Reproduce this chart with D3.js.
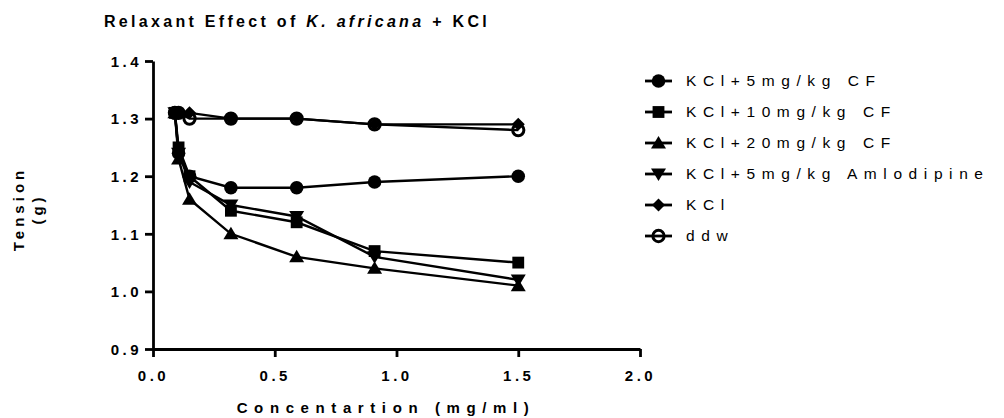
<!DOCTYPE html>
<html>
<head>
<meta charset="utf-8">
<script src="https://cdn.jsdelivr.net/npm/d3@7"></script>
<style>
  body { margin: 0; background: #fff; }
  text { font-family: "Liberation Sans", Arial, sans-serif; }
</style>
</head>
<body>
<div id="chart"></div>
<script>
const concentrations = [0.09, 0.105, 0.15, 0.32, 0.59, 0.91, 1.5];

const seriesNames = ["KCl+5mg/kg CF", "KCl+10mg/kg CF", "KCl+20mg/kg CF",
  "KCl+5mg/kg Amlodipine", "KCl", "ddw"];

const cf5 = [1.31, 1.24, 1.20, 1.18, 1.18, 1.19, 1.20];
const cf10 = [1.31, 1.25, 1.20, 1.14, 1.12, 1.07, 1.05];
const cf20 = [1.31, 1.23, 1.16, 1.10, 1.06, 1.04, 1.01];
const amlodipine = [1.31, 1.24, 1.19, 1.15, 1.13, 1.06, 1.02];
const kcl = [1.31, 1.31, 1.31, 1.30, 1.30, 1.29, 1.29];
const ddw = [1.31, 1.31, 1.30, 1.30, 1.30, 1.29, 1.28];

const xTicks = [0.0, 0.5, 1.0, 1.5, 2.0];
const yTicks = [0.9, 1.0, 1.1, 1.2, 1.3, 1.4];

const seriesValues = [cf5, cf10, cf20, amlodipine, kcl, ddw];
const markers = ["circle", "square", "triangle", "down", "diamond", "ring"];

const width = 1004, height = 418;

const svg = d3.select("#chart").append("svg")
  .attr("width", width)
  .attr("height", height);

const x = d3.scaleLinear().domain([0, 2]).range([153, 640]);
const y = d3.scaleLinear().domain([0.9, 1.4]).range([349, 61]);

function markerPath(kind) {
  if (kind === "circle") return d3.symbol(d3.symbolCircle, 145)();
  if (kind === "square") return d3.symbol(d3.symbolSquare, 140)();
  if (kind === "triangle" || kind === "down") return "M0,-7L7.5,5.5L-7.5,5.5Z";
  if (kind === "diamond") return "M0,-6.5L6.5,0L0,6.5L-6.5,0Z";
  return d3.symbol(d3.symbolCircle, 100)();
}

function drawMarker(g, kind) {
  const p = g.append("path").attr("d", markerPath(kind));
  if (kind === "down") p.attr("transform", "rotate(180)");
  if (kind === "ring") {
    p.attr("fill", "none").attr("stroke", "#000").attr("stroke-width", 3);
  } else {
    p.attr("fill", "#000");
  }
}

// axes
const yAxis = svg.append("g")
  .attr("transform", `translate(${x(0)},0)`)
  .call(d3.axisLeft(y).tickValues(yTicks).tickFormat(d3.format(".1f"))
    .tickSize(8).tickSizeOuter(0).tickPadding(3));

const xAxis = svg.append("g")
  .attr("transform", `translate(0,${y(0.9)})`)
  .call(d3.axisBottom(x).tickValues(xTicks).tickFormat(d3.format(".1f"))
    .tickSize(8).tickSizeOuter(0).tickPadding(13));

[xAxis, yAxis].forEach(a => {
  a.select(".domain").attr("stroke-width", 2.8);
  a.selectAll(".tick line").attr("stroke-width", 2.8);
  a.selectAll(".tick text")
    .attr("font-size", 15)
    .attr("font-weight", "bold")
    .attr("letter-spacing", 3.5)
    .attr("fill", "#000");
});
yAxis.selectAll(".tick text").attr("dy", "0.35em");

// lines and markers
const line = d3.line()
  .x((d, i) => x(concentrations[i]))
  .y(d => y(d));

seriesValues.forEach((vals, s) => {
  svg.append("path")
    .datum(vals)
    .attr("fill", "none")
    .attr("stroke", "#000")
    .attr("stroke-width", 2.4)
    .attr("d", line);

  vals.forEach((v, i) => {
    const g = svg.append("g")
      .attr("transform", `translate(${x(concentrations[i])},${y(v)})`);
    drawMarker(g, markers[s]);
  });
});

// title
const title = svg.append("text")
  .attr("x", 297)
  .attr("y", 27)
  .attr("text-anchor", "middle")
  .attr("font-size", 16)
  .attr("font-weight", "bold")
  .attr("letter-spacing", 3.3);
title.append("tspan").text("Relaxant Effect of ");
title.append("tspan").attr("font-style", "italic").text("K. africana");
title.append("tspan").text(" + KCl");

// axis titles
svg.append("text")
  .attr("x", 386)
  .attr("y", 413)
  .attr("text-anchor", "middle")
  .attr("font-size", 15)
  .attr("font-weight", "bold")
  .attr("letter-spacing", 6.6)
  .text("Concentartion (mg/ml)");

const yTitle = svg.append("text")
  .attr("transform", "translate(24,209) rotate(-90)")
  .attr("text-anchor", "middle")
  .attr("font-size", 15)
  .attr("font-weight", "bold")
  .attr("letter-spacing", 4);
yTitle.append("tspan").attr("x", 0).attr("dy", 0).text("Tension");
yTitle.append("tspan").attr("x", 0).attr("dy", 19).text("(g)");

// legend
const legend = svg.append("g");
seriesNames.forEach((name, i) => {
  const g = legend.append("g")
    .attr("transform", `translate(0,${81 + i * 31})`);
  g.append("line")
    .attr("x1", 645).attr("x2", 672)
    .attr("stroke", "#000").attr("stroke-width", 2.8);
  const m = g.append("g").attr("transform", "translate(658.5,0)");
  drawMarker(m, markers[i]);
  g.append("text")
    .attr("x", 686)
    .attr("y", 0)
    .attr("dy", "0.35em")
    .attr("font-size", 15.5)
    .attr("letter-spacing", 6.6)
    .text(name);
});
</script>
</body>
</html>
